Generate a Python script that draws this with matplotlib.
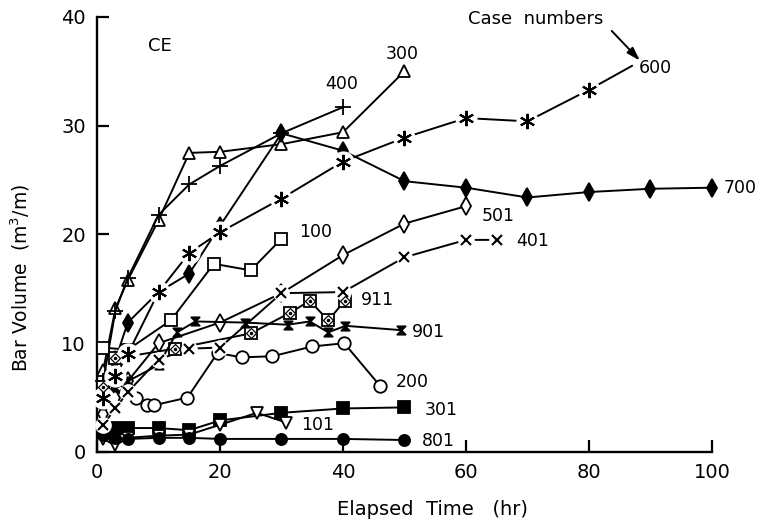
import numpy as np
import matplotlib
matplotlib.use('Agg')
import matplotlib.pyplot as plt
from matplotlib.path import Path

# data (time in hr, bar volume in m3/m)
t300 = [1, 3, 5, 10, 15, 20, 30, 40, 50]
v300 = [7.5, 13.2, 15.8, 21.3, 27.5, 27.6, 28.3, 29.4, 35.0]

t400 = [1, 3, 5, 10, 15, 20, 30, 40]
v400 = [6.5, 13.0, 16.0, 21.8, 24.6, 26.3, 29.3, 31.7]

t700 = [1, 3, 5, 10, 15, 20, 30, 40, 50, 60, 70, 80, 90, 100]
v700 = [5.5, 8.5, 11.9, 14.7, 16.4, 20.8, 29.3, 27.7, 24.9, 24.3, 23.4, 23.9, 24.2, 24.3]

t600 = [1, 3, 5, 10, 15, 20, 30, 40, 50, 60, 70, 80, 87]
v600 = [5.0, 7.0, 9.0, 14.7, 18.3, 20.2, 23.3, 26.7, 28.9, 30.7, 30.4, 33.3, 35.5]

t100 = [1, 5, 12, 19, 25, 30]
v100 = [9.6, 9.4, 12.1, 17.3, 16.7, 19.6]

t501 = [1, 3, 5, 10, 20, 30, 40, 50, 60]
v501 = [3.5, 5.0, 6.5, 10.0, 11.9, 14.6, 18.1, 21.0, 22.6]

t401 = [1, 3, 5, 10, 15, 20, 30, 40, 50, 60, 65]
v401 = [2.5, 4.0, 5.5, 8.5, 9.5, 9.6, 14.6, 14.7, 17.9, 19.5, 19.5]

t911 = [1, 3, 12.7, 25, 31.4, 34.6, 37.6, 40.3]
v911 = [6.0, 8.6, 9.5, 10.9, 12.8, 13.9, 12.1, 13.9]

t901 = [1, 3, 5, 10, 13, 16, 24, 31, 34.6, 37.6, 40.4, 49.5]
v901 = [5.0, 6.0, 6.5, 8.0, 11.0, 12.0, 11.9, 11.7, 12.0, 11.0, 11.6, 11.2]

t200 = [1, 3, 6.3, 8.2, 9.3, 14.7, 19.6, 23.5, 28.5, 35, 40.2, 46]
v200 = [4.5, 6.5, 5.0, 4.3, 4.3, 5.0, 9.1, 8.7, 8.8, 9.7, 10.0, 6.1]

t301 = [1, 3, 5, 10, 15, 20, 30, 40, 50]
v301 = [1.8, 2.2, 2.2, 2.2, 2.0, 2.9, 3.6, 4.0, 4.1]

t101 = [1, 3, 5, 10, 15, 20, 26, 30.8]
v101 = [1.2, 0.6, 1.3, 1.5, 1.6, 2.5, 3.6, 2.7]

t801 = [1, 3, 5, 10, 15, 20, 30, 40, 50]
v801 = [1.6, 1.3, 1.2, 1.3, 1.3, 1.2, 1.2, 1.2, 1.1]

# case labels: (text, x, y)
labels = [('300', 49.6, 36.6), ('400', 39.8, 33.8), ('600', 90.8, 35.3),
          ('700', 104.6, 24.3), ('100', 35.6, 20.2), ('501', 65.2, 21.7),
          ('401', 70.8, 19.4), ('911', 45.6, 14.0), ('901', 53.9, 11.0),
          ('200', 51.3, 6.4), ('301', 56.0, 3.9), ('101', 35.8, 2.5),
          ('801', 55.5, 1.0)]

plt.rcParams['font.family'] = 'DejaVu Sans'
plt.rcParams['mathtext.fontset'] = 'dejavusans'

fig = plt.figure(figsize=(7.61, 5.29), dpi=100)
ax = fig.add_axes([0.1275, 0.1456, 0.808, 0.8224])

lw = 1.4
hourglass = Path([(-1, 1), (1, 1), (-1, -1), (1, -1), (-1, 1)],
                 [Path.MOVETO, Path.LINETO, Path.LINETO, Path.LINETO, Path.CLOSEPOLY])
asterisk = (6, 2, 0)


def series(t, v, marker, ms, face='k', halo=False, z=3):
    if halo:
        ax.plot(t, v, '-', color='k', lw=lw, zorder=z, clip_on=False)
        ax.plot(t, v, ls='none', marker='o', ms=ms + 4, mfc='w', mec='w', zorder=z + 0.1, clip_on=False)
        ax.plot(t, v, ls='none', marker=marker, ms=ms, mfc=face, mec='k', mew=1.5,
                zorder=z + 0.2, clip_on=False)
    else:
        ax.plot(t, v, '-', color='k', lw=lw, marker=marker, ms=ms, mfc=face, mec='k',
                mew=1.3, zorder=z, clip_on=False)


series(t300, v300, '^', 8, face='w')
series(t400, v400, '+', 12)
series(t700, v700, 'd', 9)
series(t600[:-1], v600[:-1], asterisk, 11, halo=True)
ax.plot(t600[-2:], v600[-2:], '-', color='k', lw=lw, zorder=3)
series(t100, v100, 's', 8, face='w')
series(t501, v501, 'd', 9, face='w')
series(t401, v401, 'x', 7, halo=True)
series(t911, v911, 's', 9, face='w')
ax.plot(t911, v911, ls='none', marker='D', ms=5, mfc='w', mec='k', mew=0.9, zorder=3.5)
ax.plot(t911, v911, ls='none', marker='.', ms=3, color='k', zorder=3.6)
series(t901, v901, hourglass, 6)
series(t200, v200, 'o', 9, face='w')
series(t301, v301, 's', 8)
series(t101, v101, 'v', 8, face='w')
series(t801, v801, 'o', 8)

for txt, x, y in labels:
    ax.text(x, y, txt, fontsize=12.5, ha='center', va='center')

ax.text(10.2, 37.3, 'CE', fontsize=13, ha='center', va='center')
ax.text(60.3, 39.8, 'Case  numbers', fontsize=13, ha='left', va='center')
ax.annotate('', xy=(88.6, 35.8), xytext=(83.4, 38.9),
            arrowprops=dict(arrowstyle='-|>,head_length=0.8,head_width=0.25', color='k', lw=1.4))

ax.set_xlim(0, 100)
ax.set_ylim(0, 40)
ax.set_xticks([0, 20, 40, 60, 80, 100])
ax.set_yticks([0, 10, 20, 30, 40])
ax.spines['top'].set_visible(False)
ax.spines['right'].set_visible(False)
ax.spines['left'].set_linewidth(1.7)
ax.spines['bottom'].set_linewidth(1.7)
ax.tick_params(direction='in', length=8.5, width=1.6, labelsize=14, pad=8)
ax.set_xlabel('Elapsed  Time   (hr)', fontsize=14)
ax.set_ylabel('Bar Volume  (m$^3$/m)', fontsize=13.5)
ax.xaxis.set_label_coords(0.545, -0.11)
ax.yaxis.set_label_coords(-0.105, 0.40)

fig.savefig('out.png', dpi=100)
